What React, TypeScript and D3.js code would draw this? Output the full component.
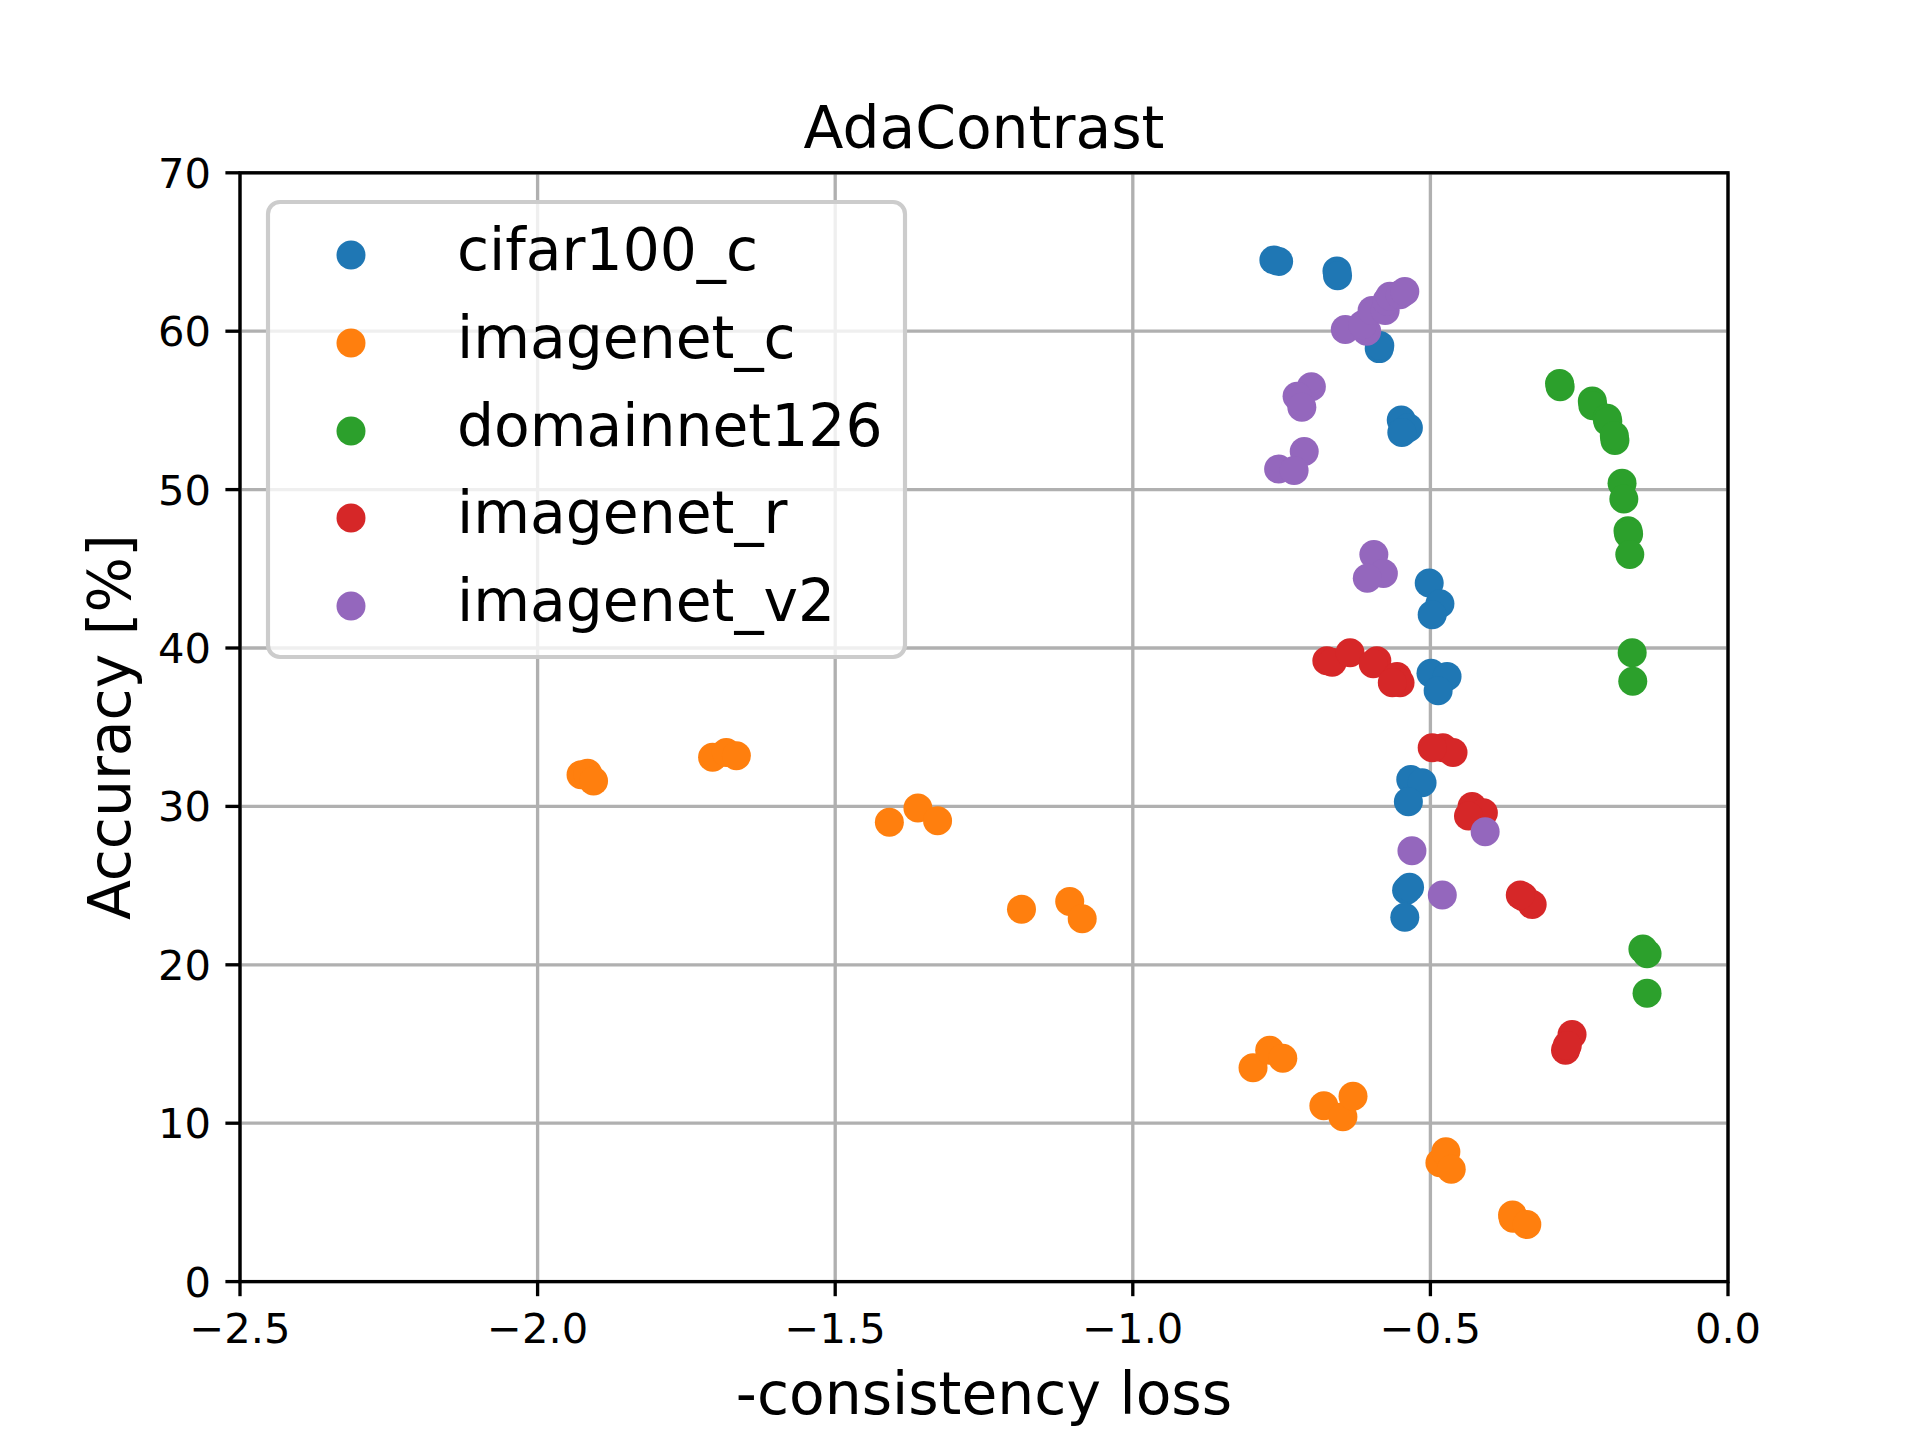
import React from "react";
import * as d3 from "d3";

const seriesNames = ["cifar100_c", "imagenet_c", "domainnet126", "imagenet_r", "imagenet_v2"];
const seriesColors = ["#1f77b4", "#ff7f0e", "#2ca02c", "#d62728", "#9467bd"];

const cifarX = [-0.763, -0.755, -0.657, -0.656, -0.586, -0.585, -0.549, -0.537, -0.548, -0.502, -0.484, -0.497, -0.499, -0.472, -0.487, -0.533, -0.514, -0.537, -0.540, -0.535, -0.543];
const cifarY = [64.5, 64.4, 63.8, 63.5, 58.9, 59.1, 54.4, 53.9, 53.6, 44.1, 42.8, 42.1, 38.4, 38.2, 37.3, 31.7, 31.5, 30.3, 24.7, 24.9, 23.0];

const imagenetCX = [-1.927, -1.916, -1.906, -1.706, -1.683, -1.666, -1.409, -1.361, -1.328, -1.187, -1.106, -1.085, -0.798, -0.770, -0.748, -0.679, -0.647, -0.630, -0.484, -0.474, -0.465, -0.361, -0.362, -0.338];
const imagenetCY = [32.0, 32.1, 31.6, 33.1, 33.4, 33.2, 29.0, 29.9, 29.1, 23.5, 24.0, 22.9, 13.5, 14.6, 14.1, 11.1, 10.4, 11.7, 7.5, 8.2, 7.1, 4.0, 4.2, 3.6];

const domainnetX = [-0.282, -0.283, -0.228, -0.227, -0.203, -0.202, -0.190, -0.191, -0.178, -0.175, -0.168, -0.167, -0.165, -0.161, -0.160, -0.143, -0.136, -0.136];
const domainnetY = [56.5, 56.7, 55.6, 55.3, 54.5, 54.3, 53.1, 53.4, 50.4, 49.4, 47.4, 47.2, 45.9, 39.7, 37.9, 21.0, 20.7, 18.2];

const imagenetRX = [-0.674, -0.665, -0.635, -0.590, -0.596, -0.556, -0.551, -0.564, -0.479, -0.462, -0.497, -0.430, -0.411, -0.436, -0.344, -0.329, -0.349, -0.262, -0.273, -0.270];
const imagenetRY = [39.2, 39.1, 39.7, 39.2, 39.0, 38.2, 37.8, 37.8, 33.7, 33.4, 33.7, 30.0, 29.6, 29.4, 24.3, 23.8, 24.4, 15.6, 14.6, 14.9];

const imagenetV2X = [-0.643, -0.607, -0.614, -0.598, -0.576, -0.573, -0.568, -0.551, -0.543, -0.700, -0.724, -0.716, -0.712, -0.755, -0.729, -0.595, -0.579, -0.606, -0.531, -0.408, -0.480];
const imagenetV2Y = [60.1, 60.0, 60.4, 61.3, 61.3, 61.9, 62.2, 62.3, 62.5, 56.5, 55.9, 55.2, 52.4, 51.3, 51.2, 45.9, 44.7, 44.4, 27.2, 28.4, 24.4];

const xTicks = [-2.5, -2.0, -1.5, -1.0, -0.5, 0.0];
const yTicks = [0, 10, 20, 30, 40, 50, 60, 70];

const titleText = "AdaContrast";
const xLabel = "-consistency loss";
const yLabel = "Accuracy [%]";

const allX = [cifarX, imagenetCX, domainnetX, imagenetRX, imagenetV2X];
const allY = [cifarY, imagenetCY, domainnetY, imagenetRY, imagenetV2Y];

export default function App() {
  const W = 1920, H = 1440;
  const left = 240, right = 1728, top = 172.8, bottom = 1281.6;
  const x = d3.scaleLinear().domain([-2.5, 0]).range([left, right]);
  const y = d3.scaleLinear().domain([0, 70]).range([bottom, top]);
  const font = "'DejaVu Sans', sans-serif";
  const fmtX = (v: number) => d3.format(".1f")(v).replace("-", "\u2212");
  const lw = 3.33;
  const r = 14.5;
  const legendRows = [255, 343, 431, 518, 606];

  return (
    <svg width={W} height={H} style={{ position: "absolute", left: 0, top: 0, background: "#fff" }} fontFamily={font}>
      <rect x={0} y={0} width={W} height={H} fill="#fff" />
      {/* grid */}
      {xTicks.map((t) => (
        <line key={"gx" + t} x1={x(t)} x2={x(t)} y1={top} y2={bottom} stroke="#b0b0b0" strokeWidth={lw} />
      ))}
      {yTicks.map((t) => (
        <line key={"gy" + t} x1={left} x2={right} y1={y(t)} y2={y(t)} stroke="#b0b0b0" strokeWidth={lw} />
      ))}
      {/* points */}
      {allX.map((xs, si) => (
        <g key={"s" + si} fill={seriesColors[si]}>
          {xs.map((xv, i) => (
            <circle key={i} cx={x(xv)} cy={y(allY[si][i])} r={r} />
          ))}
        </g>
      ))}
      {/* spines */}
      <rect x={left} y={top} width={right - left} height={bottom - top} fill="none" stroke="#000" strokeWidth={lw} />
      {/* ticks */}
      {xTicks.map((t) => (
        <g key={"tx" + t}>
          <line x1={x(t)} x2={x(t)} y1={bottom} y2={bottom + 14.6} stroke="#000" strokeWidth={lw} />
          <text x={x(t)} y={1343} textAnchor="middle" fontSize={41.67} fill="#000">{fmtX(t)}</text>
        </g>
      ))}
      {yTicks.map((t) => (
        <g key={"ty" + t}>
          <line x1={left - 14.6} x2={left} y1={y(t)} y2={y(t)} stroke="#000" strokeWidth={lw} />
          <text x={211} y={y(t) + 15} textAnchor="end" fontSize={41.67} fill="#000">{String(t)}</text>
        </g>
      ))}
      {/* labels */}
      <text x={(left + right) / 2} y={148} textAnchor="middle" fontSize={58.33} fill="#000">{titleText}</text>
      <text x={(left + right) / 2} y={1414} textAnchor="middle" fontSize={58.33} fill="#000">{xLabel}</text>
      <text transform={`translate(130,${(top + bottom) / 2}) rotate(-90)`} textAnchor="middle" fontSize={58.33} fill="#000">{yLabel}</text>
      {/* legend */}
      <rect x={268} y={202} width={905 - 268} height={657 - 202} rx={12} ry={12} fill="#fff" fillOpacity={0.8} stroke="#cccccc" strokeWidth={4.17} />
      {seriesNames.map((name, i) => (
        <g key={"lg" + name}>
          <circle cx={351} cy={legendRows[i]} r={r} fill={seriesColors[i]} />
          <text x={457} y={legendRows[i] + 15} fontSize={58.33} fill="#000">{name}</text>
        </g>
      ))}
    </svg>
  );
}
